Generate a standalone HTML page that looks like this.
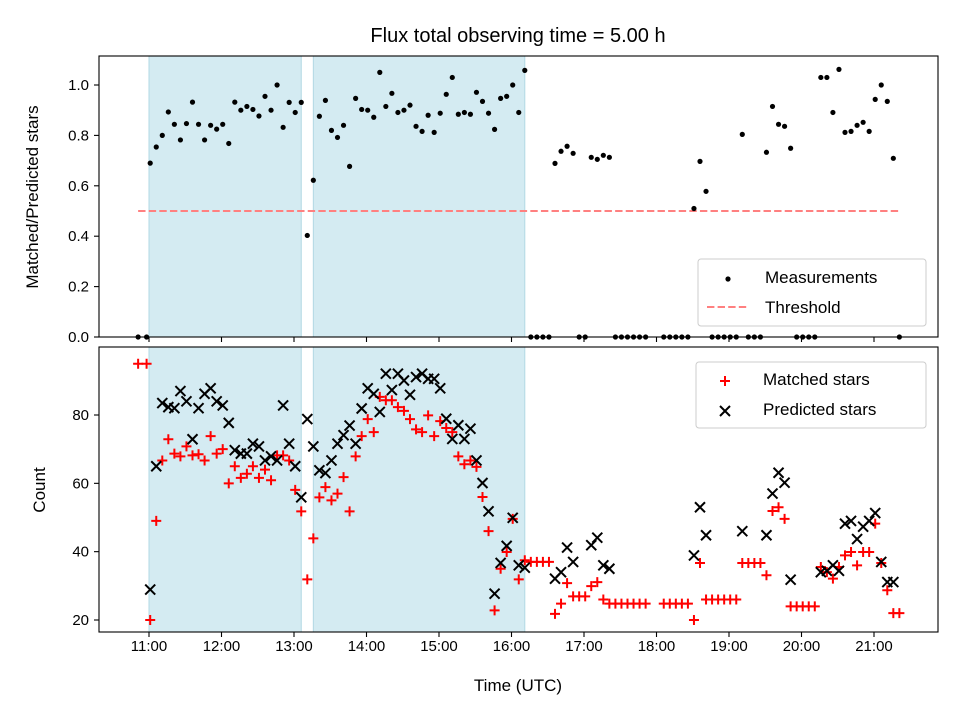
<!DOCTYPE html>
<html><head><meta charset="utf-8"><style>
html,body{margin:0;padding:0;background:#fff;}
svg{display:block;font-family:"Liberation Sans","DejaVu Sans",sans-serif;}
</style></head><body>
<svg id="chart" width="960" height="720" viewBox="0 0 960 720" xmlns="http://www.w3.org/2000/svg">
<rect width="960" height="720" fill="#fff"/>
<text x="518" y="42" font-size="20" text-anchor="middle">Flux total observing time = 5.00 h</text>
<text transform="translate(38,197) rotate(-90)" font-size="17" text-anchor="middle">Matched/Predicted stars</text>
<text transform="translate(45,490) rotate(-90)" font-size="17" text-anchor="middle">Count</text>
<text x="518" y="691" font-size="17" text-anchor="middle">Time (UTC)</text>
<g id="topPanel"></g>
<g id="bottomPanel"></g>
</svg>
<script>
// minutes after 11:00 UTC
const times = [-9,-2,1,6,11,16,21,26,31,36,41,46,51,56,61,66,71,76,81,86,91,96,101,106,111,116,121,126,131,136,141,146,151,156,161,166,171,176,181,186,191,196,201,206,211,216,221,226,231,236,241,246,251,256,261,266,271,276,281,286,291,296,301,306,311,316,321,326,331,336,341,346,351,356,361,366,371,376,381,386,391,396,401,406,411,426,431,436,441,446,451,456,461,466,471,476,481,486,491,496,501,506,511,516,521,526,531,536,541,546,551,556,561,566,571,576,581,586,591,596,601,606,611,616,621];
const ratioValues = [0,0,0.69,0.754,0.80,0.893,0.844,0.782,0.847,0.932,0.844,0.782,0.84,0.825,0.844,0.768,0.932,0.90,0.915,0.903,0.877,0.955,0.90,1.0,0.832,0.931,0.891,0.931,0.403,0.622,0.876,0.939,0.82,0.792,0.84,0.677,0.947,0.903,0.90,0.872,1.05,0.915,0.967,0.891,0.90,0.92,0.836,0.816,0.88,0.812,0.888,0.963,1.03,0.884,0.891,0.884,0.971,0.935,0.888,0.824,0.947,0.955,1.0,0.891,1.058,0,0,0,0,0.689,0.737,0.757,0.729,0,0,0.713,0.705,0.721,0.713,0,0,0,0,0,0,0,0,0,0,0,0.51,0.697,0.578,0,0,0,0,0,0.804,0,0,0,0.733,0.915,0.844,0.836,0.749,0,0,0,0,1.03,1.03,0.891,1.062,0.812,0.816,0.84,0.852,0.816,0.943,1.0,0.935,0.709,0];
const matchedValues = [95,95,20,49,66.7,72.9,68.7,67.9,70.8,68.2,68.5,66.7,73.8,68.7,70,60,65,61.6,62.8,65,61.6,64,60.9,68.2,68.2,66.7,58.1,51.8,31.9,43.9,55.9,58.9,55,57,61.8,51.8,67.9,73.8,78.8,75,85.3,84.3,84.3,82.3,81.2,78.8,75.8,75,79.9,73.8,78.2,76.2,75,67.9,65.6,66.7,64.8,56,46,22.8,35,39.9,49.6,31.9,37.5,37,37,37,37,21.8,24.8,30.8,26.9,26.9,26.9,29.9,31.1,26,24.8,24.8,24.8,24.8,24.8,24.8,24.8,24.8,24.8,24.8,24.8,24.8,20,36.7,26,26,26,26,26,26,36.7,36.7,36.7,36.7,33.1,51.9,53,49.6,24,24,24,24,24,35.5,34,32.1,35.5,38.9,39.9,36,39.9,39.9,48.2,36.7,28.7,22,22];
const predTimes = [1,6,11,16,21,26,31,36,41,46,51,56,61,66,71,76,81,86,91,96,101,106,111,116,121,126,131,136,141,146,151,156,161,166,171,176,181,186,191,196,201,206,211,216,221,226,231,236,241,246,251,256,261,266,271,276,281,286,291,296,301,306,311,336,341,346,351,366,371,376,381,451,456,461,491,511,516,521,526,531,556,561,566,571,576,581,586,591,596,601,606,611,616];
const predValues = [28.9,65,83.5,82.3,82,87,84,72.9,82,86.2,87.8,84,82.8,77.7,69.7,68.7,68.7,71.6,70.8,66.7,67.9,66.7,82.8,71.6,65,55.9,78.8,70.8,63.8,63,66.7,71.6,74.1,76.9,71.6,81.9,87.8,86.2,80.9,92.1,87.3,92.1,90.1,85.9,91.1,92.1,90.6,90.6,87.8,78.9,73,77,73,76,66.7,60.1,51.8,27.7,36.7,41.7,49.9,36,35.3,32.1,34,41.2,37,41.9,44.1,36,35,38.9,53,44.8,46,44.8,57,63.1,60.2,31.8,34,34.4,36,34.4,48.2,49,43.7,47.3,49,51.3,37,31.1,31.1];
const shadeSpans = [[0,126],[136,311]];
const thresholdValue = 0.5;
const thresholdRange = [-9,621];
const xTickHours = [11,12,13,14,15,16,17,18,19,20,21];
const topTicks = [0,0.2,0.4,0.6,0.8,1.0];
const bottomTicks = [20,40,60,80];

const NS = "http://www.w3.org/2000/svg";
const L = 99, R = 938;
const xs = m => 149 + m * 72.5 / 60;
const yTop = v => 337 - v * 252;
const yBot = v => 620 - (v - 20) * 205 / 60;
function mk(parent, tag, attrs, text){
  const e = document.createElementNS(NS, tag);
  for (const k in attrs) e.setAttribute(k, attrs[k]);
  if (text !== undefined) e.textContent = text;
  parent.appendChild(e);
  return e;
}
const gTop = document.getElementById('topPanel');
const gBot = document.getElementById('bottomPanel');

function panel(g, y0, y1, name){
  shadeSpans.forEach((s, i) => {
    const r = mk(g, 'rect', {x: xs(s[0]), y: y0, width: xs(s[1]) - xs(s[0]), height: y1 - y0, fill: 'rgb(212,235,242)', stroke: 'rgb(178,216,228)', 'stroke-width': 1});
    
    
  });
}
panel(gTop, 56, 337, 'top');
panel(gBot, 347, 632, 'bottom');

const th = mk(gTop, 'line', {x1: xs(thresholdRange[0]), x2: xs(thresholdRange[1]), y1: yTop(thresholdValue), y2: yTop(thresholdValue), stroke: 'rgb(255,128,128)', 'stroke-width': 2, 'stroke-dasharray': '7.4,3.2'});



times.forEach((t, i) => {
  const c = mk(gTop, 'circle', {cx: xs(t), cy: yTop(ratioValues[i]), r: 2.6, fill: '#000'});
  
  
});

function plus(g, x, y){
  return mk(g, 'path', {d: `M${x-5},${y}H${x+5}M${x},${y-5}V${y+5}`, stroke: '#f00', 'stroke-width': 2, fill: 'none'});
}
function cross(g, x, y){
  return mk(g, 'path', {d: `M${x-5},${y-5}L${x+5},${y+5}M${x-5},${y+5}L${x+5},${y-5}`, stroke: '#000', 'stroke-width': 2, fill: 'none'});
}
times.forEach((t, i) => {
  const p = plus(gBot, xs(t), yBot(matchedValues[i]));
  
  
});
predTimes.forEach((t, i) => {
  const p = cross(gBot, xs(t), yBot(predValues[i]));
  
  
});

function frame(g, y0, y1, name){
  const f = mk(g, 'rect', {x: L, y: y0, width: R - L, height: y1 - y0, fill: 'none', stroke: '#000', 'stroke-width': 1.1});
  
  
  xTickHours.forEach(h => {
    const x = xs((h - 11) * 60);
    const t = mk(g, 'line', {x1: x, x2: x, y1: y1, y2: y1 + 5, stroke: '#000', 'stroke-width': 1.1});
    
    
  });
}
frame(gTop, 56, 337, 'top');
frame(gBot, 347, 632, 'bottom');
xTickHours.forEach(h => {
  const t = mk(gBot, 'text', {x: xs((h - 11) * 60), y: 651, 'font-size': 15, 'text-anchor': 'middle'}, h + ':00');
  
  
});
topTicks.forEach(v => {
  const y = yTop(v);
  const l = mk(gTop, 'line', {x1: L - 5, x2: L, y1: y, y2: y, stroke: '#000', 'stroke-width': 1.1});
  
  
  const t = mk(gTop, 'text', {x: L - 10, y: y + 5, 'font-size': 15, 'text-anchor': 'end'}, v.toFixed(1));
  
  
});
bottomTicks.forEach(v => {
  const y = yBot(v);
  const l = mk(gBot, 'line', {x1: L - 5, x2: L, y1: y, y2: y, stroke: '#000', 'stroke-width': 1.1});
  
  
  const t = mk(gBot, 'text', {x: L - 10, y: y + 5, 'font-size': 15, 'text-anchor': 'end'}, String(v));
  
  
});

const lg1 = mk(gTop, 'g', {});


mk(lg1, 'rect', {x: 698, y: 259, width: 228, height: 67, rx: 3, fill: 'rgba(255,255,255,0.8)', stroke: '#ccc'});
mk(lg1, 'circle', {cx: 728, cy: 279, r: 2.6, fill: '#000'});
mk(lg1, 'text', {x: 765, y: 283, 'font-size': 17}, 'Measurements');
mk(lg1, 'line', {x1: 707, x2: 749, y1: 307, y2: 307, stroke: 'rgb(255,128,128)', 'stroke-width': 2, 'stroke-dasharray': '7.4,3.2'});
mk(lg1, 'text', {x: 765, y: 313, 'font-size': 17}, 'Threshold');

const lg2 = mk(gBot, 'g', {});


mk(lg2, 'rect', {x: 696, y: 362, width: 230, height: 66, rx: 3, fill: 'rgba(255,255,255,0.8)', stroke: '#ccc'});
plus(lg2, 725, 381);
mk(lg2, 'text', {x: 763, y: 385, 'font-size': 17}, 'Matched stars');
cross(lg2, 725, 411);
mk(lg2, 'text', {x: 763, y: 415, 'font-size': 17}, 'Predicted stars');
</script>
</body></html>
